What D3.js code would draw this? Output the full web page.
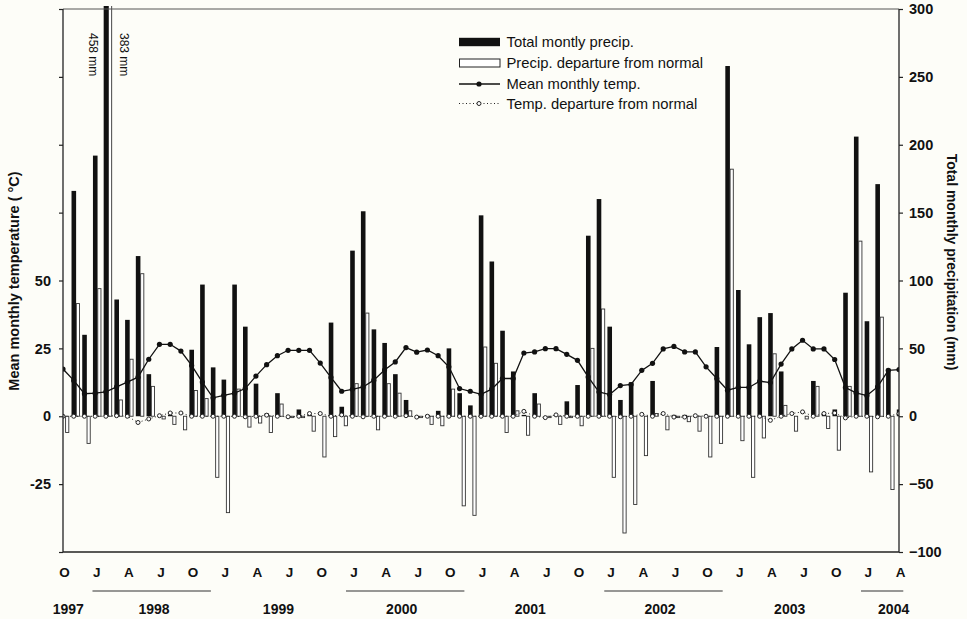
<!DOCTYPE html>
<html>
<head>
<meta charset="utf-8">
<script src="https://cdn.jsdelivr.net/npm/d3@7/dist/d3.min.js"></script>
<style>
  html, body { margin: 0; padding: 0; background: #fdfdf8; }
  svg { display: block; font-family: "Liberation Sans", Arial, Helvetica, sans-serif; }
</style>
</head>
<body>
<svg id="chart" width="967" height="619"></svg>
<script>
// Months Oct 1997 .. Apr 2004 (79 months), index 0 = Oct 1997
const precip = [0,166,60,192,458,86,71,118,31,0,1,0,49,97,36,27,97,66,24,2,17,0,5,1,0,69,7,122,151,64,54,31,12,0,1,4,50,17,8,148,114,63,33,1,17,0,0,11,23,133,160,66,12,25,0,26,0,1,1,0,0,51,258,93,53,73,76,33,0,0,26,1,5,91,206,70,171,35,5];
const precipDep = [-12,83,-20,94,383,12,42,105,22,-2,-6,-10,19,13,-45,-71,20,-8,-5,-12,9,-1,-1,-11,-30,-15,-7,24,76,-10,24,17,4,-1,-6,-7,20,-66,-73,51,39,-12,4,-14,9,-1,-6,-1,-7,50,79,-45,-86,-65,-29,2,-10,-1,-4,-11,-30,-20,182,-18,-45,-16,46,8,-11,-2,22,-9,-25,22,129,-41,73,-54,-25];
const temp = [17.4,13.2,8.3,8.5,9,10.8,12.6,14.4,21,26.5,26.5,24,18.7,12.6,6.8,7.7,8.5,10.2,14.8,19,22.3,24.3,24.3,24.3,19.6,14.3,9.2,9.9,10.8,13.3,17,20,25.3,23.6,24.4,22.3,18.2,10.2,9.2,8.1,10,13.9,13.9,23.3,23.7,24.9,24.9,22.8,20.6,14.5,9,8,11.3,11.7,16.9,19.5,24.8,25.7,23.7,23.7,18.2,13.9,9.6,10.6,10.6,12.9,12.4,19.2,24.8,28,24.8,24.8,20.9,10.6,8.6,7.6,10.8,16.9,17.2];
const tempDep = [0,0,0,0,0,0.2,0,-2.3,-1,0.2,1.2,1.2,0,0,0,0,0,-0.2,0,0.4,0,-0.2,0,1,1,0,0.5,0,-0.2,0,0,0,0.2,-0.3,0,0,0,0,0,0,0,0,0,1.8,0,-0.5,0.5,0,0,0,0,0,-0.2,0,0.7,0,1,-0.3,-0.3,0.2,0,0,0,0,0,0,-1.5,0,1,1.6,0,1,1.2,-0.6,0,0,-0.2,0,1];

const monthTickIdx = d3.range(0, 79, 3);
const monthTickLabels = ["O","J","A","J","O","J","A","J","O","J","A","J","O","J","A","J","O","J","A","J","O","J","A","J","O","J","A"];
const yearLabels = ["1997","1998","1999","2000","2001","2002","2003","2004"];
const yearCenters = [0.5, 8.5, 20.1, 31.6, 43.6, 55.7, 67.8, 77.5];
const yearUnderlines = [[2.75, 13.8], [26.4, 37.45], [50.5, 61.55], [74.45, 78.4]];
const tempTicks = [-50,-25,0,25,50,75,100,125,150];
const tempTickLabeled = [-25,0,25,50];
const precipTicks = [-100,-50,0,50,100,150,200,250,300];
const legendLabels = ["Total montly precip.","Precip. departure from normal","Mean monthly temp.","Temp. departure from normal"];
const offscaleNotes = [{idx:4, text:"458 mm", side:-1}, {idx:4, text:"383 mm", side:1}];

const svg = d3.select("#chart");
const L = 63, R = 899, T = 9, B = 552;
svg.append("rect").attr("width",967).attr("height",619).attr("fill","#fdfdf8");

const x = d3.scaleLinear().domain([0,78]).range([L,R]);
const yP = d3.scaleLinear().domain([-100,300]).range([B,T]);
const yT = d3.scaleLinear().domain([-50,150]).range([B,T]);

svg.append("defs").append("clipPath").attr("id","plotclip")
  .append("rect").attr("x",L).attr("y",T-3).attr("width",R-L).attr("height",B-T+3);

const plot = svg.append("g").attr("clip-path","url(#plotclip)");
const idx = d3.range(precip.length);

// total precipitation bars
plot.selectAll("rect.p").data(idx.filter(i => precip[i] > 0)).join("rect")
  .attr("class","p")
  .attr("x", i => x(i) - 2.2).attr("width", 4.6)
  .attr("y", i => yP(precip[i])).attr("height", i => yP(0) - yP(precip[i]))
  .attr("fill","#111");

// departure bars
plot.selectAll("rect.d").data(idx.filter(i => precipDep[i] !== 0)).join("rect")
  .attr("class","d")
  .attr("x", i => x(i) + 2.6).attr("width", 3.2)
  .attr("y", i => yP(Math.max(precipDep[i],0)))
  .attr("height", i => Math.abs(yP(precipDep[i]) - yP(0)))
  .attr("fill","#fff").attr("stroke","#333").attr("stroke-width",0.9);

// temperature line
plot.append("path").datum(idx)
  .attr("d", d3.line().x(i => x(i)).y(i => yT(temp[i])))
  .attr("fill","none").attr("stroke","#111").attr("stroke-width",1.3);
plot.selectAll("circle.t").data(idx).join("circle")
  .attr("class","t").attr("cx", i => x(i)).attr("cy", i => yT(temp[i])).attr("r",2.6).attr("fill","#111");

// temperature departure
plot.append("path").datum(idx)
  .attr("d", d3.line().x(i => x(i)).y(i => yT(tempDep[i])))
  .attr("fill","none").attr("stroke","#222").attr("stroke-width",1).attr("stroke-dasharray","1,2.5");
plot.selectAll("circle.td").data(idx).join("circle")
  .attr("class","td").attr("cx", i => x(i)).attr("cy", i => yT(tempDep[i])).attr("r",2)
  .attr("fill","#fff").attr("stroke","#222").attr("stroke-width",1);

// frame top line
svg.append("line").attr("x1",L).attr("x2",R).attr("y1",T).attr("y2",T)
  .attr("stroke","#555").attr("stroke-width",1);

// axes
const leftAx = svg.append("g").attr("transform",`translate(${L},0)`)
  .call(d3.axisLeft(yT).tickValues(tempTicks).tickSize(4).tickPadding(8)
    .tickFormat(d => tempTickLabeled.includes(d) ? d : ""));
const rightAx = svg.append("g").attr("transform",`translate(${R},0)`)
  .call(d3.axisRight(yP).tickValues(precipTicks).tickSize(4).tickPadding(6));
const botAx = svg.append("g").attr("transform",`translate(0,${B})`)
  .call(d3.axisBottom(x).tickValues(monthTickIdx).tickSize(0).tickPadding(15)
    .tickFormat((d,k) => monthTickLabels[k]));
[leftAx,rightAx,botAx].forEach(g => {
  g.select(".domain").attr("stroke","#222").attr("stroke-width",1.3);
  g.selectAll(".tick line").attr("stroke","#222").attr("stroke-width",1.2);
  g.selectAll("text").attr("font-size",14.5).attr("font-weight","bold").attr("fill","#111")
    .attr("font-family","'Liberation Sans', Arial, sans-serif");
});
botAx.selectAll("text").attr("font-size",13.5).attr("dx", 1);
leftAx.select(".domain").attr("d", `M0,${T}V${B}`);
rightAx.select(".domain").attr("d", `M0,${T}V${B}`);
botAx.select(".domain").attr("d", `M${L},0H${R}`);

// year labels
svg.selectAll("text.year").data(yearLabels).join("text")
  .attr("class","year").attr("x",(d,k) => x(yearCenters[k])).attr("y",614)
  .attr("text-anchor","middle").attr("font-size",14).attr("font-weight","bold").attr("fill","#111")
  .text(d => d);
svg.selectAll("line.yu").data(yearUnderlines).join("line")
  .attr("class","yu").attr("x1", d => x(d[0])).attr("x2", d => x(d[1]))
  .attr("y1",591).attr("y2",591).attr("stroke","#333").attr("stroke-width",1.2);

// axis titles
svg.append("text").attr("transform",`translate(18.5,281) rotate(-90)`)
  .attr("text-anchor","middle").attr("font-size",14.5).attr("font-weight","bold").attr("fill","#111")
  .text("Mean monthly temperature ( \u00B0C)");
svg.append("text").attr("transform",`translate(946.5,262) rotate(90)`)
  .attr("text-anchor","middle").attr("font-size",14).attr("font-weight","bold").attr("fill","#111")
  .text("Total monthly precipitation (mm)");

// off-scale annotations
svg.selectAll("text.note").data(offscaleNotes).join("text")
  .attr("class","note")
  .attr("transform", d => `translate(${x(d.idx) + (d.side < 0 ? -16.5 : 13.8)},33) rotate(90)`)
  .attr("font-size",12).attr("fill","#111").text(d => d.text);

// legend
const lg = svg.append("g").attr("transform","translate(459,0)");
const rows = [42, 63, 84, 103.5];
lg.append("rect").attr("x",0).attr("y",rows[0]-4.2).attr("width",41).attr("height",8.4).attr("fill","#111");
lg.append("rect").attr("x",0.5).attr("y",rows[1]-4).attr("width",40.5).attr("height",8)
  .attr("fill","#fff").attr("stroke","#222").attr("stroke-width",1);
lg.append("line").attr("x1",0).attr("x2",41).attr("y1",rows[2]).attr("y2",rows[2]).attr("stroke","#111").attr("stroke-width",1.3);
lg.append("circle").attr("cx",20).attr("cy",rows[2]).attr("r",2.6).attr("fill","#111");
lg.append("line").attr("x1",0).attr("x2",41).attr("y1",rows[3]).attr("y2",rows[3]).attr("stroke","#222").attr("stroke-width",1).attr("stroke-dasharray","1,2.5");
lg.append("circle").attr("cx",20).attr("cy",rows[3]).attr("r",2).attr("fill","#fff").attr("stroke","#222");
lg.selectAll("text").data(legendLabels).join("text")
  .attr("x",47.5).attr("y",(d,k) => rows[k] + 5)
  .attr("font-size",14.8).attr("fill","#111").text(d => d);
</script>
</body>
</html>
